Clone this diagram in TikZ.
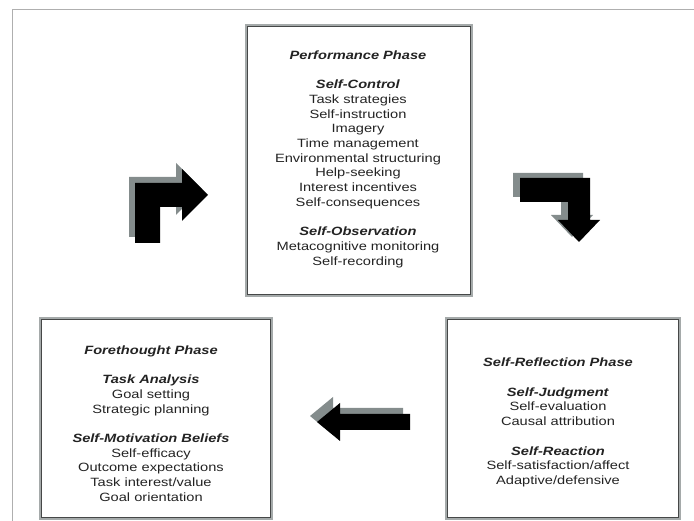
\documentclass[tikz,border=0pt]{standalone}
\usepackage{fontspec}
\setmainfont[FakeStretch=1.22]{Liberation Sans}
\usepackage{tikz}
\usetikzlibrary{calc}
\definecolor{framegray}{RGB}{175,175,175}
\definecolor{boxgray}{RGB}{165,170,170}
\definecolor{boxdark}{RGB}{70,72,72}
\definecolor{shadowgray}{RGB}{132,140,140}
\definecolor{textgray}{RGB}{35,35,35}
\tikzstyle{phasebox}=[draw=boxgray, line width=2pt, inner sep=0pt]
\tikzstyle{boxinner}=[draw=boxdark, line width=1.2pt]
\tikzstyle{phasetext}=[align=center, text=textgray, inner sep=0pt,% the text of one phase
font=\fontsize{12}{14.7}\selectfont]
\newcommand{\heading}[1]{\textbf{\textit{#1}}}

\begin{document}
\begin{tikzpicture}[x=1pt,y=-1pt]
\useasboundingbox (0,0) rectangle (694,521);
\draw[framegray, line width=0.8pt] (12,521) -- (12,9) -- (694,9);
% the three phases
\node[phasebox, minimum width=226pt, minimum height=271pt] (perf) at (359,160.5) {};
\node[phasebox, minimum width=232pt, minimum height=201pt] (fore) at (156,418.5) {};
\node[phasebox, minimum width=234pt, minimum height=201pt] (refl) at (563,418.5) {};
\foreach \b in {perf,fore,refl}
  \draw[boxinner] ([shift={(2.5,2.5)}]\b.north west) rectangle ([shift={(-2.5,-2.5)}]\b.south east);
\node[phasetext] (perftext) at ([shift={(-1,-1.5)}]perf.center) {\heading{Performance Phase}\\[14.7pt]
  \heading{Self-Control}\\ Task strategies\\ Self-instruction\\ Imagery\\ Time management\\
  Environmental structuring\\ Help-seeking\\ Interest incentives\\ Self-consequences\\[14.7pt]
  \heading{Self-Observation}\\ Metacognitive monitoring\\ Self-recording};
\node[phasetext] (foretext) at ([shift={(-5,5)}]fore.center) {\heading{Forethought Phase}\\[14.7pt]
  \heading{Task Analysis}\\ Goal setting\\ Strategic planning\\[14.7pt]
  \heading{Self-Motivation Beliefs}\\ Self-efficacy\\ Outcome expectations\\ Task interest/value\\
  Goal orientation};
\node[phasetext] (refltext) at ([shift={(-5,4)}]refl.center) {\heading{Self-Reflection Phase}\\[14.7pt]
  \heading{Self-Judgment}\\ Self-evaluation\\ Causal attribution\\[14.7pt]
  \heading{Self-Reaction}\\ Self-satisfaction/affect\\ Adaptive/defensive};
% block arrows, shadow first
\foreach \dx/\dy/\col in {-6/-6/shadowgray, 0/0/black}
  \fill[\col, shift={(\dx,\dy)}] (135,243) -- (160,243) -- (160,207) -- (182,207) -- (182,221)
    -- (208,195) -- (182,169) -- (182,183) -- (135,183) -- cycle;
\foreach \dx/\dy/\col in {-7/-5/shadowgray, 0/0/black}
  \fill[\col, shift={(\dx,\dy)}] (520,178) -- (590,178) -- (590,220) -- (600,220) -- (579,242)
    -- (558,220) -- (568,220) -- (568,202) -- (520,202) -- cycle;
\foreach \dx/\dy/\col in {-7/-6/shadowgray, 0/0/black}
  \fill[\col, shift={(\dx,\dy)}] (410,414) -- (340,414) -- (340,403) -- (317,422) -- (340,441)
    -- (340,430) -- (410,430) -- cycle;
\end{tikzpicture}
\end{document}
